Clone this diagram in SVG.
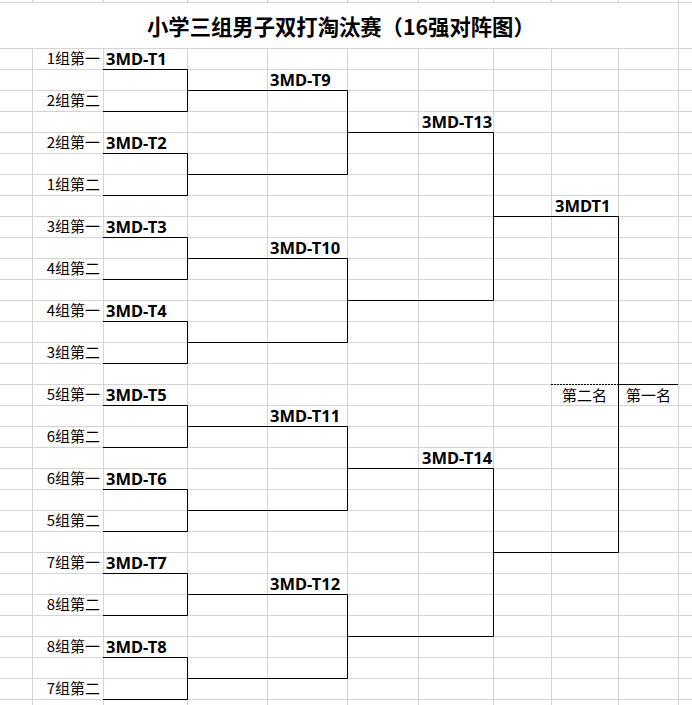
<svg xmlns="http://www.w3.org/2000/svg" width="692" height="705" viewBox="0 0 692 705">
<style>
.grid{stroke:#d4d4d4;stroke-width:1;fill:none}
.br{stroke:#000;stroke-width:1;fill:none}
.dash{stroke:#000;stroke-width:1;stroke-dasharray:2,1;fill:none}
.lbl{font-family:"Noto Sans CJK SC","Noto Sans",sans-serif;font-size:15px;fill:#000;text-anchor:end}
.mid{text-anchor:middle}
.m{font-family:"Noto Sans","Liberation Sans",sans-serif;font-weight:bold;font-size:16.5px;fill:#000}
.title{font-family:"Noto Sans CJK SC",sans-serif;font-weight:bold;font-size:21.33px;fill:#000}
</style>
<rect width="692" height="705" fill="#fff"/>
<g id="grid" class="grid">
<path d="M0 2.5H692M0 48.5H692M0 69.5H692M0 90.5H692M0 111.5H692M0 132.5H692M0 153.5H692M0 174.5H692M0 195.5H692M0 216.5H692M0 237.5H692M0 258.5H692M0 279.5H692M0 300.5H692M0 321.5H692M0 342.5H692M0 363.5H692M0 384.5H692M0 405.5H692M0 426.5H692M0 447.5H692M0 468.5H692M0 489.5H692M0 510.5H692M0 531.5H692M0 552.5H692M0 573.5H692M0 594.5H692M0 615.5H692M0 636.5H692M0 657.5H692M0 678.5H692M0 699.5H692"/>
<path d="M32.5 0V2.5M103.5 0V2.5M187.5 0V2.5M267.5 0V2.5M347.5 0V2.5M418.5 0V2.5M493.5 0V2.5M551.5 0V2.5M618.5 0V2.5M32.5 48V705M103.5 48V705M187.5 48V705M267.5 48V705M347.5 48V705M418.5 48V705M493.5 48V705M551.5 48V705M618.5 48V705M678.5 0V705"/>
</g>
<g id="title"><text class="title" x="147" y="35">小学三组男子双打淘汰赛（16强对阵图）</text></g>
<g id="connectors">
<path class="br" d="M103 69.5H187.5V111.5H103M103 153.5H187.5V195.5H103M103 237.5H187.5V279.5H103M103 321.5H187.5V363.5H103M103 405.5H187.5V447.5H103M103 489.5H187.5V531.5H103M103 573.5H187.5V615.5H103M103 657.5H187.5V699.5H103"/>
<path class="br" d="M187.5 90.5H347.5V174.5H187.5M187.5 258.5H347.5V342.5H187.5M187.5 426.5H347.5V510.5H187.5M187.5 594.5H347.5V678.5H187.5"/>
<path class="br" d="M347.5 132.5H493.5V300.5H347.5M347.5 468.5H493.5V636.5H347.5"/>
<path class="br" d="M493.5 216.5H618.5V552.5H493.5"/>
<path class="dash" d="M551 384.5H618"/>
<path class="br" d="M618 384.5H678"/>
</g>
<g id="T1"><text class="lbl" x="100" y="64">1组第一</text><text class="lbl" x="100" y="106">2组第二</text><text class="m" x="106" y="65">3MD-T1</text></g>
<g id="T2"><text class="lbl" x="100" y="148">2组第一</text><text class="lbl" x="100" y="190">1组第二</text><text class="m" x="106" y="149">3MD-T2</text></g>
<g id="T3"><text class="lbl" x="100" y="232">3组第一</text><text class="lbl" x="100" y="274">4组第二</text><text class="m" x="106" y="233">3MD-T3</text></g>
<g id="T4"><text class="lbl" x="100" y="316">4组第一</text><text class="lbl" x="100" y="358">3组第二</text><text class="m" x="106" y="317">3MD-T4</text></g>
<g id="T5"><text class="lbl" x="100" y="400">5组第一</text><text class="lbl" x="100" y="442">6组第二</text><text class="m" x="106" y="401">3MD-T5</text></g>
<g id="T6"><text class="lbl" x="100" y="484">6组第一</text><text class="lbl" x="100" y="526">5组第二</text><text class="m" x="106" y="485">3MD-T6</text></g>
<g id="T7"><text class="lbl" x="100" y="568">7组第一</text><text class="lbl" x="100" y="610">8组第二</text><text class="m" x="106" y="569">3MD-T7</text></g>
<g id="T8"><text class="lbl" x="100" y="652">8组第一</text><text class="lbl" x="100" y="694">7组第二</text><text class="m" x="106" y="653">3MD-T8</text></g>
<g id="T9"><text class="m" x="270" y="86">3MD-T9</text></g>
<g id="T10"><text class="m" x="270" y="254">3MD-T10</text></g>
<g id="T11"><text class="m" x="270" y="422">3MD-T11</text></g>
<g id="T12"><text class="m" x="270" y="590">3MD-T12</text></g>
<g id="T13"><text class="m" x="422" y="128">3MD-T13</text></g>
<g id="T14"><text class="m" x="422" y="464">3MD-T14</text></g>
<g id="final"><text class="m" x="555" y="212">3MDT1</text></g>
<g id="second"><text class="lbl mid" x="584.5" y="401">第二名</text></g>
<g id="first"><text class="lbl mid" x="648.5" y="401">第一名</text></g>
</svg>
